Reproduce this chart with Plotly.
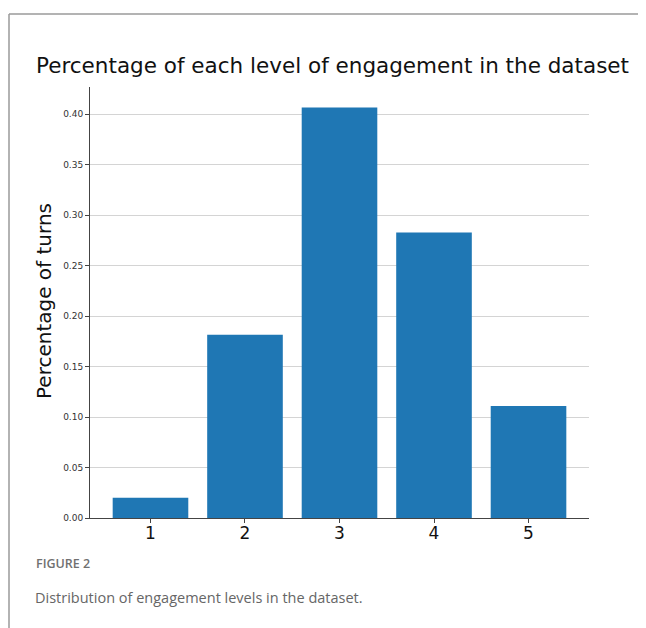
import plotly.graph_objects as go

levels = ["1", "2", "3", "4", "5"]
level_pos = [1, 2, 3, 4, 5]
percentages = [0.020, 0.1815, 0.4066, 0.2829, 0.1109]
y_ticks = [0.00, 0.05, 0.10, 0.15, 0.20, 0.25, 0.30, 0.35, 0.40]

# page body adds an 8px offset; figure coordinates are screen minus 8
OFF = 8
W, H = 646 - OFF, 628 - OFF
L, R, T, B = 90 - OFF, 65 - OFF, 87 - OFF, 110
pw, ph = W - L - R, H - T - B

def px_x(X):
    return (X - OFF - L) / pw

def px_y(Y):
    return (H - B - (Y - OFF)) / ph

fig = go.Figure()
fig.add_trace(go.Bar(
    x=level_pos, y=percentages, width=0.8,
    marker=dict(color="#1f77b4", line=dict(width=0)),
))

fig.update_layout(
    width=W, height=H,
    margin=dict(l=L, r=R, t=T, b=B),
    paper_bgcolor="white", plot_bgcolor="white",
    showlegend=False,
    font=dict(family="DejaVu Sans", color="#222"),
    xaxis=dict(
        range=[0.36, 5.64], tickvals=level_pos, ticktext=levels,
        showgrid=False, zeroline=False, showline=True, linecolor="#444", linewidth=1,
        ticks="outside", ticklen=4, tickcolor="#444", ticklabelstandoff=-4,
        tickfont=dict(family="DejaVu Sans", size=17, color="#111"),
    ),
    yaxis=dict(
        range=[0, 0.427], tickvals=y_ticks, tickformat=".2f",
        showgrid=True, gridcolor="#d4d4d4", gridwidth=1, zeroline=False,
        showline=True, linecolor="#444", linewidth=1,
        ticks="outside", ticklen=4, tickcolor="#444",
        tickfont=dict(family="DejaVu Sans", size=9, color="#333"),
    ),
    shapes=[
        dict(type="line", xref="paper", yref="paper",
             x0=px_x(9), x1=px_x(9), y0=px_y(14), y1=px_y(700),
             line=dict(color="#9a9a9a", width=1.5)),
        dict(type="line", xref="paper", yref="paper",
             x0=px_x(9), x1=px_x(700), y0=px_y(14), y1=px_y(14),
             line=dict(color="#9a9a9a", width=1.5)),
    ],
    annotations=[
        dict(text="Percentage of each level of engagement in the dataset",
             xref="paper", yref="paper", x=px_x(332), y=px_y(65),
             xanchor="center", yanchor="middle", showarrow=False,
             font=dict(family="DejaVu Sans", size=21.5, color="#111")),
        dict(text="Percentage of turns", textangle=-90,
             xref="paper", yref="paper", x=px_x(44), y=px_y(301),
             xanchor="center", yanchor="middle", showarrow=False,
             font=dict(family="DejaVu Sans", size=20, color="#111")),
        dict(text="FIGURE 2",
             xref="paper", yref="paper", x=px_x(34), y=px_y(563),
             xanchor="left", yanchor="middle", showarrow=False,
             font=dict(family="Open Sans", size=12.5, color="#707070", weight=600)),
        dict(text="Distribution of engagement levels in the dataset.",
             xref="paper", yref="paper", x=px_x(33), y=px_y(597),
             xanchor="left", yanchor="middle", showarrow=False,
             font=dict(family="Open Sans", size=14.5, color="#666")),
    ],
)

fig.write_html("out.html")
